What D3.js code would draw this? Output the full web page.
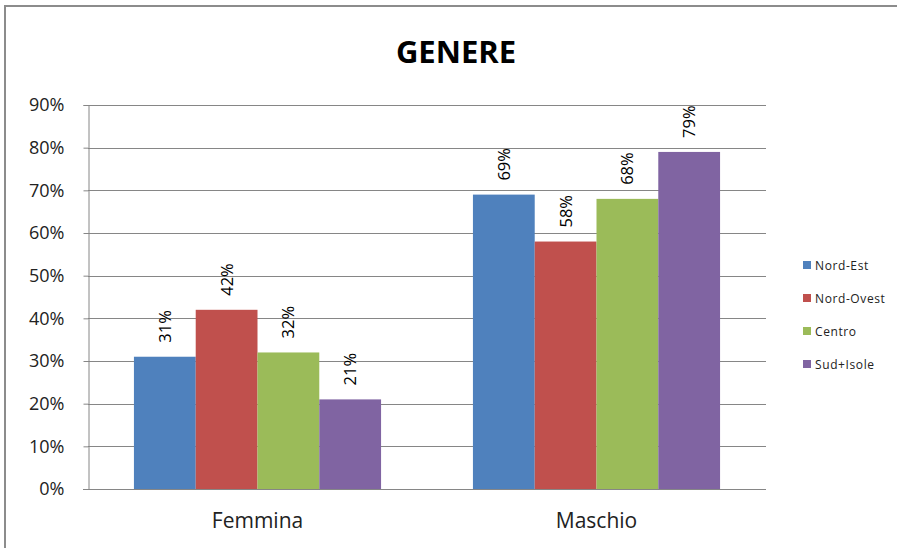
<!DOCTYPE html>
<html><head><meta charset="utf-8">
<script src="https://cdn.jsdelivr.net/npm/d3@7"></script>
<style>body{margin:0;background:#fff}svg{display:block}</style>
</head><body>
<script>
const categories = ["Femmina", "Maschio"];
const seriesNames = ["Nord-Est", "Nord-Ovest", "Centro", "Sud+Isole"];
const nordEst = [31, 69];
const nordOvest = [42, 58];
const centro = [32, 68];
const sudIsole = [21, 79];
const yTicks = [0, 10, 20, 30, 40, 50, 60, 70, 80, 90];
const colors = ["#4f81bd", "#c0504d", "#9bbb59", "#8064a2"];
const seriesValues = [nordEst, nordOvest, centro, sudIsole];

(function () {
const W = 897, H = 548;
const svg = d3.select("body").append("svg").attr("width", W).attr("height", H);
const font = "'Open Sans', 'Liberation Sans', sans-serif";

// outer border (top & left)
svg.append("line").attr("x1", 5).attr("x2", W).attr("y1", 6).attr("y2", 6).attr("stroke", "#8c8c8c").attr("stroke-width", 2);
svg.append("line").attr("x1", 5).attr("x2", 5).attr("y1", 5).attr("y2", H).attr("stroke", "#8c8c8c").attr("stroke-width", 2);

svg.append("text").attr("x", 456).attr("y", 63).attr("text-anchor", "middle")
  .attr("font-family", font).attr("font-weight", "bold").attr("font-size", 31).attr("fill", "#000").text("GENERE");

const pLeft = 88, pRight = 766, pTop = 105, pBottom = 489;
const y = d3.scaleLinear().domain([0, 90]).range([pBottom, pTop]);
const x0 = d3.scaleBand().domain(categories).range([pLeft, pRight]).paddingInner(0.271).paddingOuter(0.1355);
const x1 = d3.scaleBand().domain(seriesNames).range([0, x0.bandwidth()]);

// gridlines
svg.append("g").selectAll("line").data(yTicks.filter(d => d > 0)).join("line")
  .attr("x1", pLeft).attr("x2", pRight).attr("y1", d => Math.round(y(d)) + 0.5).attr("y2", d => Math.round(y(d)) + 0.5)
  .attr("stroke", "#868686").attr("stroke-width", 1);

// y axis
const yAxis = svg.append("g").attr("transform", `translate(${pLeft + 0.5},0)`)
  .call(d3.axisLeft(y).tickValues(yTicks).tickFormat(d => d + "%").tickSize(5).tickPadding(19));
yAxis.select(".domain").attr("stroke", "#868686");
yAxis.selectAll(".tick line").attr("stroke", "#868686");
yAxis.selectAll("text").attr("font-family", font).attr("font-size", 18).attr("fill", "#222");

// bars
const groups = svg.append("g").selectAll("g").data(categories).join("g")
  .attr("transform", d => `translate(${x0(d)},0)`);
groups.selectAll("rect").data((c, i) => seriesNames.map((s, j) => ({ s, j, v: seriesValues[j][i] }))).join("rect")
  .attr("x", d => x1(d.s)).attr("width", x1.bandwidth())
  .attr("y", d => y(d.v)).attr("height", d => y(0) - y(d.v))
  .attr("fill", d => colors[d.j]);
groups.selectAll("text").data((c, i) => seriesNames.map((s, j) => ({ s, j, v: seriesValues[j][i] }))).join("text")
  .attr("transform", d => `translate(${x1(d.s) + x1.bandwidth() / 2 + 6},${y(d.v) - 14}) rotate(-90)`)
  .attr("font-family", font).attr("font-size", 16.5).attr("fill", "#000")
  .text(d => d.v + "%");

// x axis
const xAxis = svg.append("g").attr("transform", `translate(0,${pBottom + 0.5})`)
  .call(d3.axisBottom(x0).tickSize(0).tickPadding(24));
xAxis.select(".domain").attr("stroke", "#868686").attr("d", `M${pLeft - 5},0H${pRight}`);
xAxis.selectAll("text").attr("font-family", font).attr("font-size", 21).attr("fill", "#222");

// legend
const leg = svg.append("g").selectAll("g").data(seriesNames).join("g")
  .attr("transform", (d, i) => `translate(803,${265 + i * 33})`);
leg.append("rect").attr("x", 0).attr("y", -4).attr("width", 8).attr("height", 8).attr("fill", (d, i) => colors[i]);
leg.append("text").attr("x", 12).attr("y", 4.5).attr("font-family", font).attr("font-size", 12)
  .attr("letter-spacing", 0.6).attr("fill", "#222").text(d => d);
})();
</script>
</body></html>
